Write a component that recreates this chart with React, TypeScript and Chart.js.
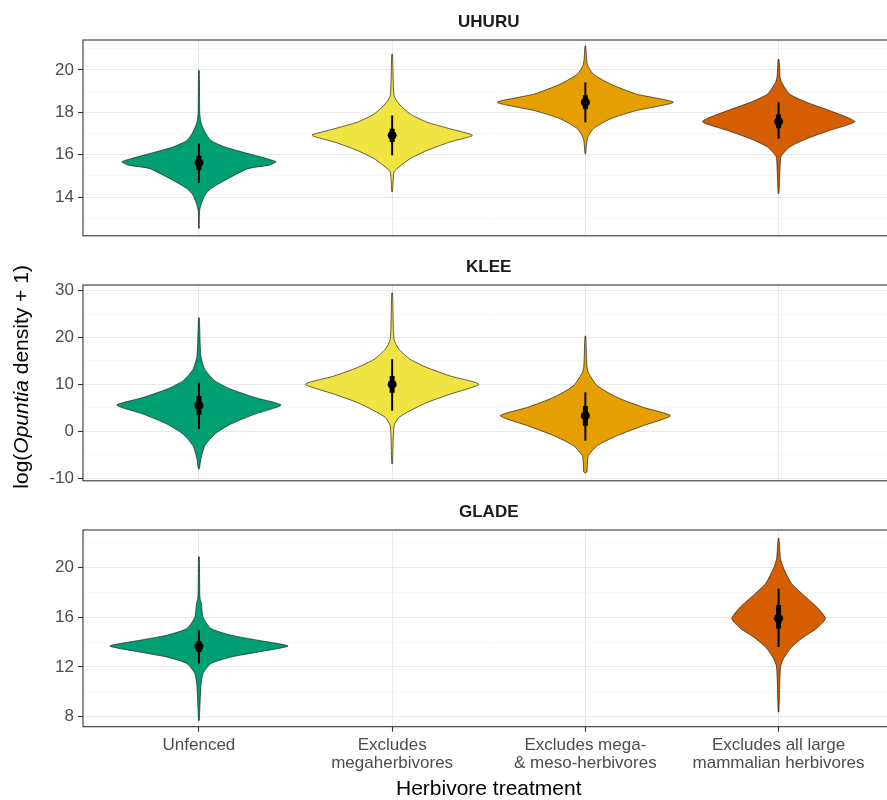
import React, { useEffect, useRef } from "react";
import { Chart, registerables } from "chart.js";

Chart.register(...registerables);

type Profile = [number, number][]; // [log density value, violin half-width in category units]

// ---------------- data ----------------
const CATEGORIES: string[][] = [
  ["Unfenced"],
  ["Excludes", "megaherbivores"],
  ["Excludes mega-", "& meso-herbivores"],
  ["Excludes all large", "mammalian herbivores"],
];
const CATEGORY_POS = [0, 1, 2, 3];
const SITES = ["UHURU", "KLEE", "GLADE"];
const X_TITLE = "Herbivore treatment";
const Y_TITLE_PARTS = ["log(", "Opuntia", " density + 1)"];

// UHURU
const UHURU_RANGE = [12.17, 21.41];
const UHURU_TICKS = [14, 16, 18, 20];
const UHURU_MINOR = [13, 15, 17, 19, 21];
const UHURU_UNFENCED: Profile = [
  [12.53, 0.002], [13.31, 0.003], [13.62, 0.01], [14.09, 0.031], [14.4, 0.062], [14.79, 0.135],
  [15.34, 0.254], [15.5, 0.363], [15.66, 0.399], [15.81, 0.352], [16.05, 0.254], [16.36, 0.135],
  [16.67, 0.062], [17.07, 0.031], [17.53, 0.01], [18.0, 0.004], [19.96, 0.002],
];
const UHURU_MEGA: Profile = [
  [14.25, 0.002], [15.19, 0.01], [15.42, 0.036], [15.81, 0.093], [16.2, 0.181], [16.6, 0.3],
  [16.91, 0.415], [17.22, 0.3], [17.53, 0.181], [17.92, 0.093], [18.39, 0.036], [18.78, 0.01], [20.74, 0.002],
];
const UHURU_MESO: Profile = [
  [16.05, 0.002], [16.75, 0.01], [17.22, 0.041], [17.69, 0.13], [18.08, 0.264], [18.47, 0.456],
  [18.86, 0.264], [19.33, 0.13], [19.8, 0.041], [20.27, 0.01], [21.13, 0.002],
];
const UHURU_ALL: Profile = [
  [14.17, 0.002], [15.81, 0.01], [15.97, 0.016], [16.36, 0.057], [16.75, 0.145], [17.14, 0.264],
  [17.56, 0.394], [18.08, 0.264], [18.47, 0.145], [18.86, 0.057], [19.41, 0.016], [19.65, 0.008], [20.5, 0.002],
];
const UHURU_PROFILES: (Profile | null)[] = [UHURU_UNFENCED, UHURU_MEGA, UHURU_MESO, UHURU_ALL];
const UHURU_MEDIAN = [15.62, 16.91, 18.47, 17.56];
const UHURU_INNER = [[15.28, 15.95], [16.6, 17.22], [18.15, 18.8], [17.25, 17.9]];
const UHURU_OUTER = [[14.66, 16.52], [15.97, 17.85], [17.53, 19.41], [16.75, 18.47]];

// KLEE
const KLEE_RANGE = [-10.57, 31.21];
const KLEE_TICKS = [-10, 0, 10, 20, 30];
const KLEE_MINOR = [-5, 5, 15, 25];
const KLEE_UNFENCED: Profile = [
  [-8.0, 0.003], [-5.88, 0.01], [-3.05, 0.031], [-0.57, 0.083], [1.55, 0.166], [3.67, 0.29],
  [5.58, 0.425], [7.2, 0.29], [8.98, 0.166], [10.75, 0.083], [13.2, 0.031], [16.05, 0.01], [24.2, 0.002],
];
const KLEE_MEGA: Profile = [
  [-6.94, 0.002], [1.19, 0.01], [2.96, 0.036], [4.38, 0.093], [6.15, 0.181], [7.92, 0.3],
  [10.04, 0.449], [11.8, 0.3], [13.58, 0.181], [15.35, 0.093], [17.47, 0.036], [19.6, 0.01], [29.5, 0.002],
];
const KLEE_MESO: Profile = [
  [-8.9, 0.001], [-8.7, 0.008], [-7.3, 0.01], [-5.2, 0.016], [-3.05, 0.062], [-0.9, 0.166], [1.2, 0.3],
  [3.31, 0.44], [5.1, 0.3], [7.2, 0.166], [9.7, 0.062], [12.5, 0.016], [13.9, 0.008], [20.3, 0.002],
];
const KLEE_PROFILES: (Profile | null)[] = [KLEE_UNFENCED, KLEE_MEGA, KLEE_MESO, null];
const KLEE_MEDIAN = [5.5, 10.0, 3.3, null];
const KLEE_INNER = [[3.5, 7.5], [8.2, 11.8], [1.2, 5.4], null];
const KLEE_OUTER = [[0.5, 10.4], [4.38, 15.35], [-2.0, 8.3], null];

// GLADE
const GLADE_RANGE = [7.19, 23.03];
const GLADE_TICKS = [8, 12, 16, 20];
const GLADE_MINOR = [10, 14, 18, 22];
const GLADE_UNFENCED: Profile = [
  [7.7, 0.002], [10.4, 0.01], [11.46, 0.021], [12.27, 0.062], [12.8, 0.166], [13.2, 0.306],
  [13.69, 0.461], [14.15, 0.306], [14.56, 0.166], [15.1, 0.062], [16.03, 0.021], [17.1, 0.013],
  [17.5, 0.006], [18.2, 0.004], [20.87, 0.002],
];
const GLADE_ALL: Profile = [
  [8.37, 0.002], [12.0, 0.01], [12.68, 0.026], [13.6, 0.067], [14.42, 0.13], [15.1, 0.197],
  [15.9, 0.242], [16.84, 0.197], [17.78, 0.13], [18.73, 0.067], [19.94, 0.026], [20.74, 0.01], [22.35, 0.002],
];
const GLADE_PROFILES: (Profile | null)[] = [GLADE_UNFENCED, null, null, GLADE_ALL];
const GLADE_MEDIAN = [13.65, null, null, 15.9];
const GLADE_INNER = [[13.2, 14.1], null, null, [15.1, 17.0]];
const GLADE_OUTER = [[12.27, 14.96], null, null, [13.6, 18.3]];

// ---------------- styles ----------------
const FILLS = ["#009E73", "#F0E442", "#E69F00", "#D55E00"];
const FONT = "'Liberation Sans', Arial, Helvetica, sans-serif";
const OUTLINE = "rgba(25,25,25,0.85)";
const GRID_MAJOR = "rgba(0,0,0,0.09)";
const GRID_MINOR = "rgba(0,0,0,0.045)";
const CANVAS_W = 899;

function buildDatasets(
  profiles: (Profile | null)[],
  med: (number | null)[],
  inner: (number[] | null)[],
  outer: (number[] | null)[]
) {
  const ds: any[] = [];
  profiles.forEach((p, i) => {
    if (!p) return;
    const c = CATEGORY_POS[i];
    const right = p.map(([y, w]) => ({ x: c + w, y }));
    const left = p.slice().reverse().map(([y, w]) => ({ x: c - w, y }));
    ds.push({
      data: [...right, ...left, right[0]],
      showLine: true,
      fill: "shape",
      backgroundColor: FILLS[i],
      borderColor: OUTLINE,
      borderWidth: 0.8,
      pointRadius: 0,
      tension: 0.2,
      order: 3,
    });
    const o = outer[i];
    if (o) {
      ds.push({
        data: [{ x: c, y: o[0] }, { x: c, y: o[1] }],
        showLine: true, fill: false, borderColor: "#000", borderWidth: 2,
        borderCapStyle: "butt", pointRadius: 0, order: 2,
      });
    }
    const n = inner[i];
    if (n) {
      ds.push({
        data: [{ x: c, y: n[0] }, { x: c, y: n[1] }],
        showLine: true, fill: false, borderColor: "#000", borderWidth: 5,
        borderCapStyle: "butt", pointRadius: 0, order: 1,
      });
    }
    const m = med[i];
    if (m !== null && m !== undefined) {
      ds.push({
        data: [{ x: c, y: m }],
        showLine: false, pointRadius: 4.5, pointBackgroundColor: "#000",
        pointBorderWidth: 0, order: 0,
      });
    }
  });
  return ds;
}

function makeDeco(title: string, yTitle: boolean) {
  return {
    id: "deco" + title,
    afterDraw(chart: any) {
      const { ctx, chartArea: a } = chart;
      ctx.save();
      ctx.strokeStyle = "#333";
      ctx.lineWidth = 1.1;
      ctx.strokeRect(a.left, a.top, a.right - a.left, a.bottom - a.top);
      ctx.fillStyle = "#1a1a1a";
      ctx.font = `bold 17px ${FONT}`;
      ctx.textAlign = "center";
      ctx.textBaseline = "middle";
      ctx.fillText(title, (a.left + a.right) / 2, a.top - 18);
      if (yTitle) {
        const fonts = [`21px ${FONT}`, `italic 21px ${FONT}`, `21px ${FONT}`];
        const widths = Y_TITLE_PARTS.map((t, k) => {
          ctx.font = fonts[k];
          return ctx.measureText(t).width;
        });
        const total = widths.reduce((s, w) => s + w, 0);
        ctx.translate(28, a.top + (a.bottom - a.top) / 2 - 6);
        ctx.rotate(-Math.PI / 2);
        ctx.fillStyle = "#000";
        ctx.textAlign = "left";
        ctx.textBaseline = "alphabetic";
        let x = -total / 2;
        Y_TITLE_PARTS.forEach((t, k) => {
          ctx.font = fonts[k];
          ctx.fillText(t, x, 0);
          x += widths[k];
        });
      }
      ctx.restore();
    },
  };
}

interface PanelProps {
  site: number;
  top: number;
  height: number;
  padTop: number;
  padBottom: number;
  range: number[];
  ticks: number[];
  minor: number[];
  profiles: (Profile | null)[];
  med: (number | null)[];
  inner: (number[] | null)[];
  outer: (number[] | null)[];
  bottomAxis: boolean;
  yTitle: boolean;
}

function Panel(props: PanelProps) {
  const ref = useRef<HTMLCanvasElement | null>(null);
  useEffect(() => {
    if (!ref.current) return;
    const { ticks, minor, bottomAxis } = props;
    const isMajor = (v: any) => ticks.includes(v);
    const chart = new Chart(ref.current, {
      type: "scatter",
      data: { datasets: buildDatasets(props.profiles, props.med, props.inner, props.outer) },
      plugins: [makeDeco(SITES[props.site], props.yTitle)],
      options: {
        animation: false,
        responsive: false,
        events: [],
        layout: { padding: { top: props.padTop, bottom: props.padBottom, left: 0, right: 1 } },
        plugins: { legend: { display: false }, tooltip: { enabled: false } },
        scales: {
          x: {
            type: "linear",
            min: -0.6,
            max: 3.6,
            afterBuildTicks: (s: any) => {
              s.ticks = CATEGORY_POS.map((v) => ({ value: v }));
            },
            afterFit: (s: any) => {
              s.height = bottomAxis ? 73.3 : 0;
            },
            ticks: {
              display: bottomAxis,
              autoSkip: false,
              maxRotation: 0,
              minRotation: 0,
              padding: 5,
              color: "#4d4d4d",
              font: { family: FONT, size: 17, lineHeight: 1.05 },
              callback: (v: any) => CATEGORIES[CATEGORY_POS.indexOf(Number(v))] ?? "",
            },
            grid: {
              color: GRID_MAJOR,
              lineWidth: 1,
              drawTicks: bottomAxis,
              tickLength: 5,
              tickColor: "#333",
              tickWidth: 1.1,
            },
            border: { display: false },
            title: {
              display: bottomAxis,
              text: X_TITLE,
              color: "#000",
              padding: 0,
              font: { family: FONT, size: 21, lineHeight: 1.05 },
            },
          },
          y: {
            type: "linear",
            min: props.range[0],
            max: props.range[1],
            afterBuildTicks: (s: any) => {
              s.ticks = [...ticks, ...minor].sort((a, b) => a - b).map((v) => ({ value: v }));
            },
            afterFit: (s: any) => {
              s.width = 83;
            },
            ticks: {
              autoSkip: false,
              padding: 4,
              color: "#4d4d4d",
              font: { family: FONT, size: 17 },
              callback: (v: any) => (isMajor(v) ? String(v) : ""),
            },
            grid: {
              color: (c: any) => (isMajor(c.tick?.value) ? GRID_MAJOR : GRID_MINOR),
              lineWidth: (c: any) => (isMajor(c.tick?.value) ? 1 : 0.7),
              tickLength: 5,
              tickColor: (c: any) => (isMajor(c.tick?.value) ? "#333" : "rgba(0,0,0,0)"),
              tickWidth: 1.1,
            },
            border: { display: false },
          },
        },
      } as any,
    });
    return () => chart.destroy();
  }, []);
  return (
    <canvas
      ref={ref}
      width={CANVAS_W}
      height={props.height}
      style={{ position: "absolute", left: 0, top: props.top, width: CANVAS_W, height: props.height }}
    />
  );
}

export default function App() {
  return (
    <div
      style={{
        position: "absolute",
        left: 0,
        top: 0,
        width: 887,
        height: 800,
        overflow: "hidden",
        background: "#fff",
      }}
    >
      <Panel
        site={0} top={0} height={250} padTop={40} padBottom={13.3}
        range={UHURU_RANGE} ticks={UHURU_TICKS} minor={UHURU_MINOR}
        profiles={UHURU_PROFILES} med={UHURU_MEDIAN} inner={UHURU_INNER} outer={UHURU_OUTER}
        bottomAxis={false} yTitle={false}
      />
      <Panel
        site={1} top={245} height={250} padTop={40} padBottom={13.3}
        range={KLEE_RANGE} ticks={KLEE_TICKS} minor={KLEE_MINOR}
        profiles={KLEE_PROFILES} med={KLEE_MEDIAN} inner={KLEE_INNER} outer={KLEE_OUTER}
        bottomAxis={false} yTitle={true}
      />
      <Panel
        site={2} top={495} height={305} padTop={35} padBottom={0}
        range={GLADE_RANGE} ticks={GLADE_TICKS} minor={GLADE_MINOR}
        profiles={GLADE_PROFILES} med={GLADE_MEDIAN} inner={GLADE_INNER} outer={GLADE_OUTER}
        bottomAxis={true} yTitle={false}
      />
    </div>
  );
}
